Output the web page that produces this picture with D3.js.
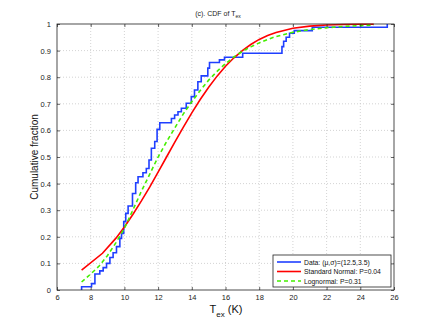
<!DOCTYPE html>
<html>
<head>
<meta charset="utf-8">
<script src="https://cdn.jsdelivr.net/npm/d3@7"></script>
<style>
body{margin:0;background:#fff;}
svg{display:block;font-family:"Liberation Sans",Arial,sans-serif;}
.grid line{stroke:#c8c8c8;stroke-dasharray:1,2;stroke-width:0.8;}
.tick text{fill:#222;}
</style>
</head>
<body>
<script>
'use strict'
// empirical CDF of T_ex: jump positions (K) and cumulative level after each jump
var texSteps = [7.46,7.46,8.05,8.25,8.54,8.74,8.94,9.14,9.33,9.53,9.73,9.83,9.96,10.08,10.22,10.48,10.67,10.81,11.1,11.3,11.46,11.6,11.8,11.94,12.1,12.79,12.98,13.18,13.38,13.67,13.97,14.16,14.36,14.56,14.95,15.05,15.64,15.94,17.02,19.35,19.45,19.6,19.8,20.08,21.15,25.6];
var cdfLevels = [0,0.012,0.024,0.06,0.072,0.084,0.1,0.122,0.14,0.163,0.194,0.213,0.257,0.288,0.316,0.363,0.403,0.426,0.441,0.457,0.489,0.533,0.558,0.604,0.629,0.645,0.658,0.67,0.683,0.702,0.727,0.752,0.783,0.805,0.834,0.855,0.865,0.875,0.89,0.915,0.935,0.95,0.965,0.975,0.988,1.0];

// standard normal fit
var normX = [7.46,8.7,9.5,10,10.5,11,11.5,12,12.5,13,13.5,14,14.5,15,15.5,16,16.5,17,17.5,18,18.5,19,20,21,22,23,24,24.8];
var normY = [0.075,0.138,0.195,0.237,0.284,0.334,0.387,0.443,0.5,0.557,0.612,0.666,0.716,0.762,0.804,0.841,0.873,0.9,0.923,0.942,0.957,0.968,0.984,0.992,0.996,0.998,0.999,0.999];

// lognormal fit
var logX = [7.46,8,8.5,9,9.5,10,10.5,11,11.5,12,12.5,13,13.5,14,14.5,15,15.5,16,16.5,17,17.5,18,18.5,19,20,21,22,23,24,24.8];
var logY = [0.03,0.06,0.09,0.13,0.178,0.232,0.3,0.37,0.435,0.5,0.557,0.61,0.662,0.708,0.75,0.789,0.822,0.851,0.876,0.897,0.914,0.929,0.942,0.953,0.969,0.979,0.986,0.991,0.994,0.996];

var xTicks = d3.range(6, 27, 2);
var yTicks = d3.range(0, 11).map(function(d){ return d/10; });
var legendLabels = ['Data: (\u03bc,\u03c3)=(12.5,3.5)', 'Standard Normal: P=0.04', 'Lognormal: P=0.31'];
var legendColors = ['#1f3fff', '#ff0000', '#44ee00'];

var W = 436, H = 327;
var m = {left: 57, right: 42, top: 24, bottom: 37};

var svg = d3.select('body').append('svg').attr('width', W).attr('height', H);

var x = d3.scaleLinear().domain([6, 26]).range([m.left, W - m.right]);
var y = d3.scaleLinear().domain([0, 1]).range([H - m.bottom, m.top]);

// grid
svg.append('g').attr('class', 'grid')
	.selectAll('line.v').data(xTicks.slice(1, -1)).enter().append('line')
	.attr('x1', x).attr('x2', x).attr('y1', y(0)).attr('y2', y(1));
svg.append('g').attr('class', 'grid')
	.selectAll('line.h').data(yTicks.slice(1, -1)).enter().append('line')
	.attr('x1', x(6)).attr('x2', x(26)).attr('y1', y).attr('y2', y);

// curves
var clip = svg.append('clipPath').attr('id', 'clip').append('rect')
	.attr('x', x(6)).attr('y', y(1) - 1).attr('width', x(26) - x(6)).attr('height', y(0) - y(1) + 1);
var plot = svg.append('g').attr('clip-path', 'url(#clip)');

var line = d3.line().x(function(d){ return x(d[0]); }).y(function(d){ return y(d[1]); });

plot.append('path')
	.datum(d3.zip(texSteps, cdfLevels))
	.attr('d', line.curve(d3.curveStepAfter))
	.attr('fill', 'none').attr('stroke', legendColors[0]).attr('stroke-width', 1.6);

line.curve(d3.curveLinear);
plot.append('path')
	.datum(d3.zip(normX, normY))
	.attr('d', line)
	.attr('fill', 'none').attr('stroke', legendColors[1]).attr('stroke-width', 1.6);

plot.append('path')
	.datum(d3.zip(logX, logY))
	.attr('d', line)
	.attr('fill', 'none').attr('stroke', legendColors[2]).attr('stroke-width', 1.6)
	.attr('stroke-dasharray', '4,3');

// axes, ticks inward as in matlab
var axFont = function(g){
	g.select('.domain').remove();
	g.selectAll('.tick line').attr('stroke', '#222').attr('stroke-width', 0.7);
	g.selectAll('.tick text').attr('font-size', 7.5).attr('font-family', '"Liberation Sans",Arial,sans-serif');
};
svg.append('g').attr('transform', 'translate(0,' + y(0) + ')')
	.call(d3.axisBottom(x).tickValues(xTicks).tickSizeInner(-3).tickPadding(5).tickFormat(d3.format('d')))
	.call(axFont);
svg.append('g').attr('transform', 'translate(0,' + y(1) + ')')
	.call(d3.axisTop(x).tickValues(xTicks).tickSizeInner(-3).tickFormat(''))
	.call(axFont);
svg.append('g').attr('transform', 'translate(' + x(6) + ',0)')
	.call(d3.axisLeft(y).tickValues(yTicks).tickSizeInner(-3).tickPadding(6).tickFormat(d3.format('')))
	.call(axFont);
svg.append('g').attr('transform', 'translate(' + x(26) + ',0)')
	.call(d3.axisRight(y).tickValues(yTicks).tickSizeInner(-3).tickFormat(''))
	.call(axFont);

svg.append('rect')
	.attr('x', x(6)).attr('y', y(1)).attr('width', x(26) - x(6)).attr('height', y(0) - y(1))
	.attr('fill', 'none').attr('stroke', '#222').attr('stroke-width', 0.8);

// title
var title = svg.append('text').attr('x', 218).attr('y', 16).attr('text-anchor', 'middle')
	.attr('font-size', 7).attr('fill', '#222');
title.append('tspan').text('(c). CDF of T');
title.append('tspan').attr('font-size', 5).attr('dy', 2).text('ex');

// axis labels
var xl = svg.append('text').attr('x', 226).attr('y', 312.5).attr('text-anchor', 'middle')
	.attr('font-size', 11).attr('fill', '#111');
xl.append('tspan').text('T');
xl.append('tspan').attr('font-size', 8).attr('dy', 4).text('ex');
xl.append('tspan').attr('dy', -4).text(' (K)');

svg.append('text')
	.attr('transform', 'translate(38,' + ((y(0) + y(1)) / 2) + ') rotate(-90)')
	.attr('text-anchor', 'middle').attr('font-size', 10).attr('fill', '#111')
	.text('Cumulative fraction');

// legend
var lg = svg.append('g').attr('transform', 'translate(273,255)');
lg.append('rect').attr('width', 118).attr('height', 32)
	.attr('fill', '#fff').attr('stroke', '#222').attr('stroke-width', 0.8);
var item = lg.selectAll('g.item').data(legendLabels).enter().append('g')
	.attr('transform', function(d, i){ return 'translate(0,' + (7 + i * 9.5) + ')'; });
item.append('line').attr('x1', 4).attr('x2', 28).attr('y1', 0).attr('y2', 0)
	.attr('stroke', function(d, i){ return legendColors[i]; }).attr('stroke-width', 1.6)
	.attr('stroke-dasharray', function(d, i){ return i == 2 ? '4,3' : null; });
item.append('text').attr('x', 31).attr('y', 2.6).attr('font-size', 6.8).attr('fill', '#111')
	.text(function(d){ return d; });
</script>
</body>
</html>
